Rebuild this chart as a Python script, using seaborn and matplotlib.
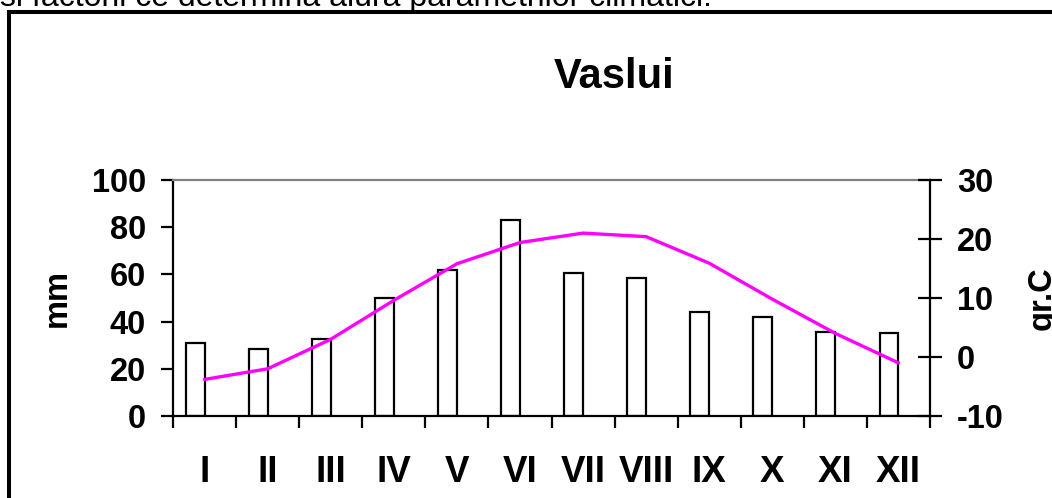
import numpy as np
import pandas as pd
import matplotlib
matplotlib.use('Agg')
import matplotlib.pyplot as plt
import seaborn as sns
from matplotlib.patches import Rectangle

# monthly climate data, Vaslui
months = ['I', 'II', 'III', 'IV', 'V', 'VI', 'VII', 'VIII', 'IX', 'X', 'XI', 'XII']
precip_mm = [31, 28.3, 32.5, 50, 62, 83, 60.4, 58.3, 44.1, 42, 35.6, 35]
temp_c = [-3.8, -2.0, 3.0, 9.6, 15.8, 19.4, 21.0, 20.4, 15.9, 9.8, 4.0, -1.0]

sns.set_style('white')
plt.rcParams['font.family'] = ['Liberation Sans', 'DejaVu Sans']
plt.rcParams['font.weight'] = 'bold'
plt.rcParams['axes.unicode_minus'] = False
for key in ['text.color', 'axes.labelcolor', 'xtick.color', 'ytick.color']:
    plt.rcParams[key] = 'black'

W, H = 1052, 498
fig = plt.figure(figsize=(W / 100, H / 100), dpi=100)
ax = fig.add_axes([173 / W, 1 - 416 / H, (930 - 173) / W, (416 - 180) / H])

pos = np.arange(len(months))
df = pd.DataFrame({'pos': pos - 0.15, 'mm': precip_mm})
sns.barplot(data=df, x='pos', y='mm', native_scale=True, width=0.3,
            color='white', saturation=1, edgecolor='black', linewidth=1.6, ax=ax)

ax.set_xlim(-0.5, 11.5)
ax.set_ylim(0, 100)
ax.set_yticks(range(0, 101, 20))
ax.set_xticks(pos)
ax.set_xticklabels(months)
ax.set_xticks(np.arange(-0.5, 12, 1), minor=True)
ax.tick_params(axis='x', which='major', bottom=True, length=0, pad=28, labelsize=26.5)
ax.tick_params(axis='x', which='minor', bottom=True, length=8.6, width=1.6, direction='out')
ax.tick_params(axis='y', left=True, length=8.6, width=1.6, direction='out', pad=11, labelsize=23.5)
ax.set_xlabel('')
ax.set_ylabel('mm', fontsize=23.5, fontweight='bold')
ax.yaxis.set_label_coords(-0.133, 0.5)

for side in ['left', 'bottom']:
    ax.spines[side].set_color('black')
    ax.spines[side].set_linewidth(1.6)
ax.spines['top'].set_color('#808080')
ax.spines['top'].set_linewidth(1.6)
ax.spines['right'].set_visible(False)

ax2 = ax.twinx()
sns.lineplot(x=pos, y=temp_c, color='#FF00FF', linewidth=2.4, ax=ax2)
ax2.set_xlim(-0.5, 11.5)
ax2.set_ylim(-10, 30)
ax2.set_yticks(range(-10, 31, 10))
ax2.tick_params(axis='y', right=True, direction='inout', length=17, width=1.6, pad=11, labelsize=23.5)
ax2.set_ylabel('gr.C', fontsize=23.5, fontweight='bold')
ax2.yaxis.set_label_coords(1.127, 0.5)
for side in ['left', 'bottom', 'top']:
    ax2.spines[side].set_visible(False)
ax2.spines['right'].set_color('black')
ax2.spines['right'].set_linewidth(1.6)

fig.text(614 / W, 1 - 77 / H, 'Vaslui', ha='center', va='center', fontsize=30, fontweight='bold')

# page text cut off above the chart and the chart frame
fig.text(0, 1 - 6 / H, 'si factorii ce determină alura parametrilor climatici.',
         ha='left', va='baseline', fontsize=23, fontweight='normal')
fig.add_artist(Rectangle((8.5 / W, -0.1), 1.2, 1.1 - 12 / H, transform=fig.transFigure,
                         fill=False, edgecolor='black', linewidth=2.9))

fig.savefig('out.png', dpi=100)
